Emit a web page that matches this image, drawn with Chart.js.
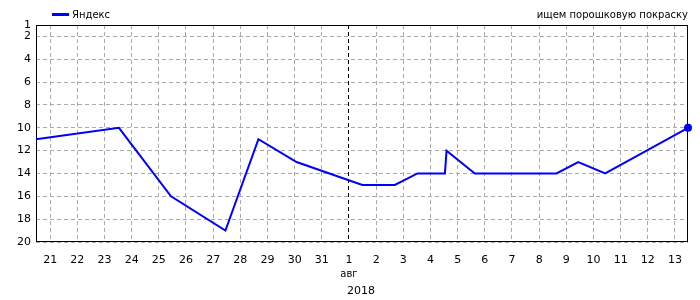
<!DOCTYPE html>
<html>
<head>
<meta charset="utf-8">
<script src="https://cdn.jsdelivr.net/npm/chart.js@4/dist/chart.umd.min.js"></script>
<style>
  html, body { margin: 0; padding: 0; background: #fff; }
  #wrap { width: 700px; height: 300px; }
</style>
</head>
<body>
<div id="wrap"><canvas id="c" width="700" height="300"></canvas></div>
<script>
// ---- data ----
const seriesName = 'Яндекс';
const queryTitle = 'ищем порошковую покраску';
const pointTimes = [
  '2018-07-20 11:30', '2018-07-23 12:45', '2018-07-25 10:45', '2018-07-27 10:50',
  '2018-07-28 16:00', '2018-07-30 01:40', '2018-08-01 11:45', '2018-08-02 16:30',
  '2018-08-03 12:30', '2018-08-04 12:45', '2018-08-04 14:10', '2018-08-05 15:10',
  '2018-08-08 15:20', '2018-08-09 10:30', '2018-08-10 10:20', '2018-08-13 11:30'
];
const positions = [11, 10, 16, 19, 11, 13, 15, 15, 14, 14, 12, 14, 14, 13, 14, 10];
const dayLabels = ['21','22','23','24','25','26','27','28','29','30','31',
                   '1','2','3','4','5','6','7','8','9','10','11','12','13'];
const yTicks = [1, 2, 4, 6, 8, 10, 12, 14, 16, 18, 20];
const monthLabel = 'авг';
const yearLabel = '2018';
const monthStartIndex = 11; // index in dayLabels of 1 авг

// convert time strings to day offsets from 2018-07-21 00:00
const base = Date.UTC(2018, 6, 21);
function toDays(s) {
  const [d, t] = s.split(' ');
  const [Y, M, D] = d.split('-').map(Number);
  const [h, m] = t.split(':').map(Number);
  return (Date.UTC(Y, M - 1, D, h, m) - base) / 86400000;
}
const points = pointTimes.map((s, i) => ({ x: toDays(s), y: positions[i] }));
const lastIdx = points.length - 1;

const FONT = 'DejaVu Sans';

const decor = {
  id: 'decor',
  beforeDatasetsDraw(chart) {
    const { ctx, chartArea: a } = chart;
    ctx.save();
    ctx.strokeStyle = '#000';
    ctx.lineWidth = 1;
    ctx.setLineDash([]);
    ctx.strokeRect(Math.round(a.left) + 0.5, Math.round(a.top) + 0.5,
                   Math.round(a.right - a.left) - 1, Math.round(a.bottom - a.top) - 1);
    ctx.restore();
  },
  afterDraw(chart) {
    const { ctx, chartArea: a, scales } = chart;
    ctx.save();
    // legend
    const ds = chart.data.datasets[0];
    ctx.strokeStyle = ds.borderColor;
    ctx.lineWidth = 3;
    ctx.beginPath();
    ctx.moveTo(52, 14.5);
    ctx.lineTo(69, 14.5);
    ctx.stroke();
    ctx.fillStyle = '#000';
    ctx.font = '10px "' + FONT + '"';
    ctx.textBaseline = 'middle';
    ctx.textAlign = 'left';
    ctx.fillText(ds.label, 72, 15);
    // title on right
    ctx.textAlign = 'right';
    ctx.fillText(queryTitle, a.right, 15);
    // month / year
    const xm = scales.x.getPixelForValue(monthStartIndex);
    ctx.textAlign = 'center';
    ctx.fillText(monthLabel, xm, 274);
    ctx.textAlign = 'left';
    ctx.font = '11px "' + FONT + '"';
    ctx.fillText(yearLabel, xm - 2, 291);
    ctx.restore();
  }
};

new Chart(document.getElementById('c'), {
  type: 'line',
  data: {
    datasets: [{
      label: seriesName,
      data: points,
      borderColor: '#0000ff',
      backgroundColor: '#0000ff',
      borderWidth: 2,
      tension: 0,
      pointRadius: ctx => ctx.dataIndex === lastIdx ? 4 : 0,
      pointHoverRadius: ctx => ctx.dataIndex === lastIdx ? 4 : 0,
      pointBorderWidth: 0,
      clip: false
    }]
  },
  options: {
    responsive: false,
    animation: false,
    events: [],
    layout: { padding: { top: 25, right: 12, left: 0, bottom: 0 } },
    plugins: { legend: { display: false }, title: { display: false }, tooltip: { enabled: false } },
    scales: {
      x: {
        type: 'linear',
        min: points[0].x,
        max: points[lastIdx].x,
        afterBuildTicks: s => { s.ticks = dayLabels.map((_, i) => ({ value: i })); },
        afterFit: s => { s.height = 58; },
        ticks: {
          autoSkip: false,
          maxRotation: 0,
          padding: 12,
          color: '#000',
          font: { family: FONT, size: 11 },
          callback: v => dayLabels[v]
        },
        grid: {
          drawTicks: false,
          color: c => (c.tick && c.tick.value === monthStartIndex) ? '#000' : '#aaaaaa',
          lineWidth: 1
        },
        border: { display: false, dash: [4, 3] }
      },
      y: {
        type: 'linear',
        reverse: true,
        min: 1,
        max: 20,
        afterBuildTicks: s => { s.ticks = yTicks.map(v => ({ value: v })); },
        afterFit: s => { s.width = 36; },
        ticks: {
          autoSkip: false,
          padding: 5,
          color: '#000',
          font: { family: FONT, size: 11 }
        },
        grid: { drawTicks: false, color: '#aaaaaa', lineWidth: 1 },
        border: { display: false, dash: [4, 3] }
      }
    }
  },
  plugins: [decor]
});
</script>
</body>
</html>
